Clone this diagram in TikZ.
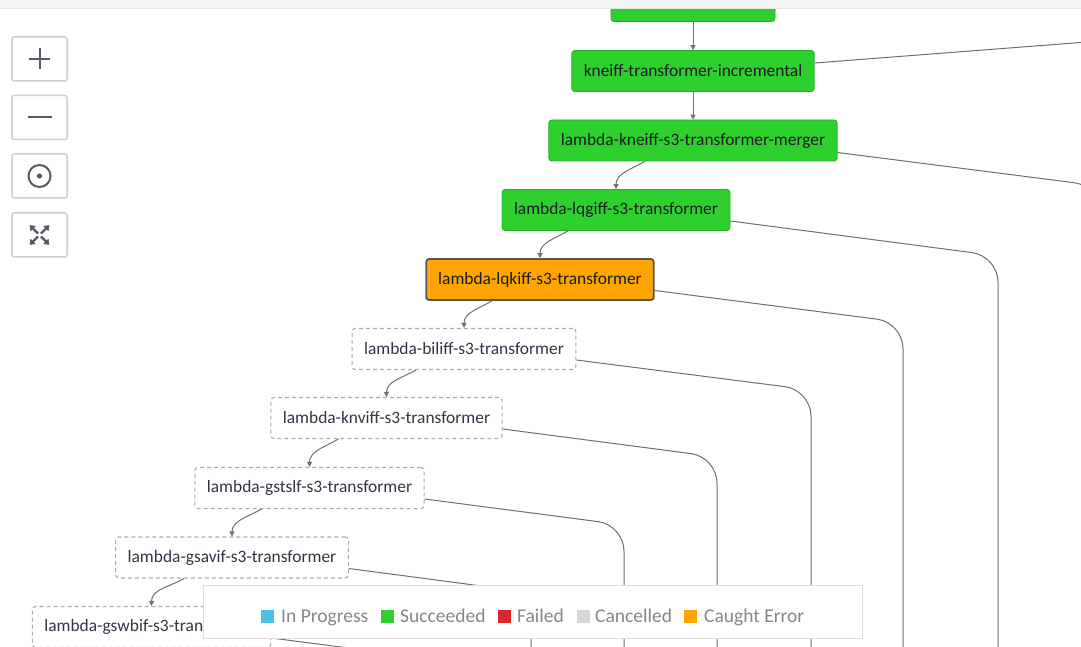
\documentclass[tikz,border=0pt]{standalone}
\usepackage{fontspec}
\setmainfont{Carlito}
\usetikzlibrary{arrows.meta}
% colours of the state machine view
\definecolor{sfgreen}{RGB}{46,208,46}
\definecolor{sfgreenline}{RGB}{38,176,38}
\definecolor{sforange}{RGB}{255,165,0}
\definecolor{sfcyan}{RGB}{78,192,232}
\definecolor{sfred}{RGB}{216,40,44}
\definecolor{sfgrey}{RGB}{214,214,214}
\definecolor{darkline}{RGB}{85,85,85}
\definecolor{pendline}{RGB}{172,172,172}
\definecolor{edgegrey}{RGB}{112,112,112}
\definecolor{nodetext}{RGB}{24,28,32}
\definecolor{pendtext}{RGB}{52,52,70}
\definecolor{keygrey}{RGB}{130,136,142}
\definecolor{btnline}{RGB}{200,210,210}
\definecolor{icongrey}{RGB}{84,91,100}
\definecolor{barfill}{RGB}{244,244,244}
\tikzset{
  task/.style={rectangle, rounded corners=3pt, minimum height=41pt, inner xsep=12pt,
    font=\fontsize{17.4}{20}\selectfont},
  done/.style={task, fill=sfgreen, draw=sfgreenline, line width=0.8pt, text=nodetext},
  caught/.style={task, fill=sforange, draw=darkline, line width=1.8pt, text=nodetext},
  pending/.style={task, fill=white, draw=pendline, line width=1.1pt,
    dash pattern=on 4pt off 3pt, text=pendtext},
  flow/.style={draw=edgegrey, line width=1pt, -{Triangle[length=5pt,width=5pt]}},
  branch/.style={draw=edgegrey, line width=1pt, rounded corners=26pt},
  zoombtn/.style={rectangle, draw=btnline, line width=1.5pt, rounded corners=2pt,
    fill=white, minimum width=55pt, minimum height=44pt},
  icon/.style={draw=icongrey, line width=2pt},
  swatch/.style={rectangle, minimum size=13pt, inner sep=0pt},
  keytext/.style={anchor=base west, inner sep=0pt, text=keygrey,
    font=\fontsize{19.5}{22}\selectfont},
}
\begin{document}
\begin{tikzpicture}[x=1pt, y=1pt]
  \useasboundingbox (0,0) rectangle (1081,646);
  \clip (0,0) rectangle (1081,646);
  \fill[white] (0,0) rectangle (1081,646);
  %
  % tasks
  \node[done, minimum width=164pt] (prevtask) at (693,645) {};
  \node[done] (kneiffinc) at (693,575) {kneiff-transformer-incremental};
  \node[done] (kneiffmerger) at (693,505.5) {lambda-kneiff-s3-transformer-merger};
  \node[done] (lqgiff) at (616,436) {lambda-lqgiff-s3-transformer};
  \node[caught] (lqkiff) at (540,366.5) {lambda-lqkiff-s3-transformer};
  \node[pending] (biliff) at (464,297) {lambda-biliff-s3-transformer};
  \node[pending] (knviff) at (386.5,228) {lambda-knviff-s3-transformer};
  \node[pending] (gstslf) at (309.5,158) {lambda-gstslf-s3-transformer};
  \node[pending] (gsavif) at (232,88.5) {lambda-gsavif-s3-transformer};
  \node[pending] (gswbif) at (151.5,19) {lambda-gswbif-s3-transformer};
  %
  % main chain
  \draw[flow] (prevtask) -- (kneiffinc);
  \draw[flow] (kneiffinc) -- (kneiffmerger);
  \draw[flow] ([xshift=-48pt]kneiffmerger.south) to[out=210, in=90] (lqgiff.north);
  \draw[flow] ([xshift=-48pt]lqgiff.south) to[out=210, in=90] (lqkiff.north);
  \draw[flow] ([xshift=-48pt]lqkiff.south) to[out=210, in=90] (biliff.north);
  \draw[flow] ([xshift=-48pt]biliff.south) to[out=210, in=90] (knviff.north);
  \draw[flow] ([xshift=-48pt]knviff.south) to[out=210, in=90] (gstslf.north);
  \draw[flow] ([xshift=-48pt]gstslf.south) to[out=210, in=90] (gsavif.north);
  \draw[flow] ([xshift=-48pt]gsavif.south) to[out=210, in=90] (gswbif.north);
  %
  % branches leaving to the right
  \coordinate (inc-out) at (1100,605);
  \coordinate (merger-bend) at (1100,460);
  \coordinate (merger-out) at (1100,-10);
  \coordinate (lqgiff-bend) at (998,390);
  \coordinate (lqgiff-out) at (998,-10);
  \coordinate (lqkiff-bend) at (903,323.5);
  \coordinate (lqkiff-out) at (903,-10);
  \coordinate (biliff-bend) at (811,256);
  \coordinate (biliff-out) at (811,-10);
  \coordinate (knviff-bend) at (717,189);
  \coordinate (knviff-out) at (717,-10);
  \coordinate (gstslf-bend) at (624,121);
  \coordinate (gstslf-out) at (624,-10);
  \coordinate (gsavif-bend) at (531,53.5);
  \coordinate (gsavif-out) at (531,-10);
  \coordinate (gswbif-bend) at (450,-15);
  \coordinate (gswbif-out) at (450,-60);
  \draw[branch] ([yshift=8pt]kneiffinc.east) -- (inc-out);
  \draw[branch] ([yshift=-12pt]kneiffmerger.east) -- (merger-bend) -- (merger-out);
  \draw[branch] ([yshift=-11pt]lqgiff.east) -- (lqgiff-bend) -- (lqgiff-out);
  \draw[branch] ([yshift=-11pt]lqkiff.east) -- (lqkiff-bend) -- (lqkiff-out);
  \draw[branch] ([yshift=-11pt]biliff.east) -- (biliff-bend) -- (biliff-out);
  \draw[branch] ([yshift=-11pt]knviff.east) -- (knviff-bend) -- (knviff-out);
  \draw[branch] ([yshift=-11pt]gstslf.east) -- (gstslf-bend) -- (gstslf-out);
  \draw[branch] ([yshift=-11pt]gsavif.east) -- (gsavif-bend) -- (gsavif-out);
  \draw[branch] ([yshift=-11pt]gswbif.east) -- (gswbif-bend) -- (gswbif-out);
  %
  % top bar
  \fill[barfill] (0,638) rectangle (1081,646);
  \draw[sfgrey!60, line width=0.6pt] (0,638) -- (1081,638);
  %
  % zoom buttons
  \node[zoombtn] (zoomin) at (39.5,587) {};
  \draw[icon] ([xshift=-10.5pt]zoomin.center) -- ([xshift=10.5pt]zoomin.center);
  \draw[icon] ([yshift=-10.5pt]zoomin.center) -- ([yshift=10.5pt]zoomin.center);
  \node[zoombtn] (zoomout) at (39.5,528.5) {};
  \draw[icon] ([xshift=-12pt]zoomout.center) -- ([xshift=12pt]zoomout.center);
  \node[zoombtn] (center) at (39.5,470) {};
  \draw[icon] (center.center) circle (11pt);
  \fill[icongrey] (center.center) circle (2.6pt);
  \node[zoombtn] (fit) at (39.5,411) {};
  \foreach \a in {45,135,225,315}
    \draw[icon, line width=2.4pt, -{Triangle[length=5pt,width=7pt]}]
      ([shift={(\a:2pt)}]fit.center) -- ([shift={(\a:14pt)}]fit.center);
  %
  % legend
  \node[rectangle, draw=sfgrey!80, line width=1pt, fill=white,
    minimum width=659pt, minimum height=53pt] (legend) at (532.5,34.5) {};
  \node[swatch, fill=sfcyan] (key-progress) at (267,30) {};
  \node[keytext] (key-progress-text) at (281,24) {In Progress};
  \node[swatch, fill=sfgreen] (key-done) at (387.5,30) {};
  \node[keytext] (key-done-text) at (400,24) {Succeeded};
  \node[swatch, fill=sfred] (key-failed) at (504.5,30) {};
  \node[keytext] (key-failed-text) at (517,24) {Failed};
  \node[swatch, fill=sfgrey] (key-cancel) at (583,30) {};
  \node[keytext] (key-cancel-text) at (595,24) {Cancelled};
  \node[swatch, fill=sforange] (key-caught) at (690,30) {};
  \node[keytext] (key-caught-text) at (704,24) {Caught Error};
\end{tikzpicture}
\end{document}
